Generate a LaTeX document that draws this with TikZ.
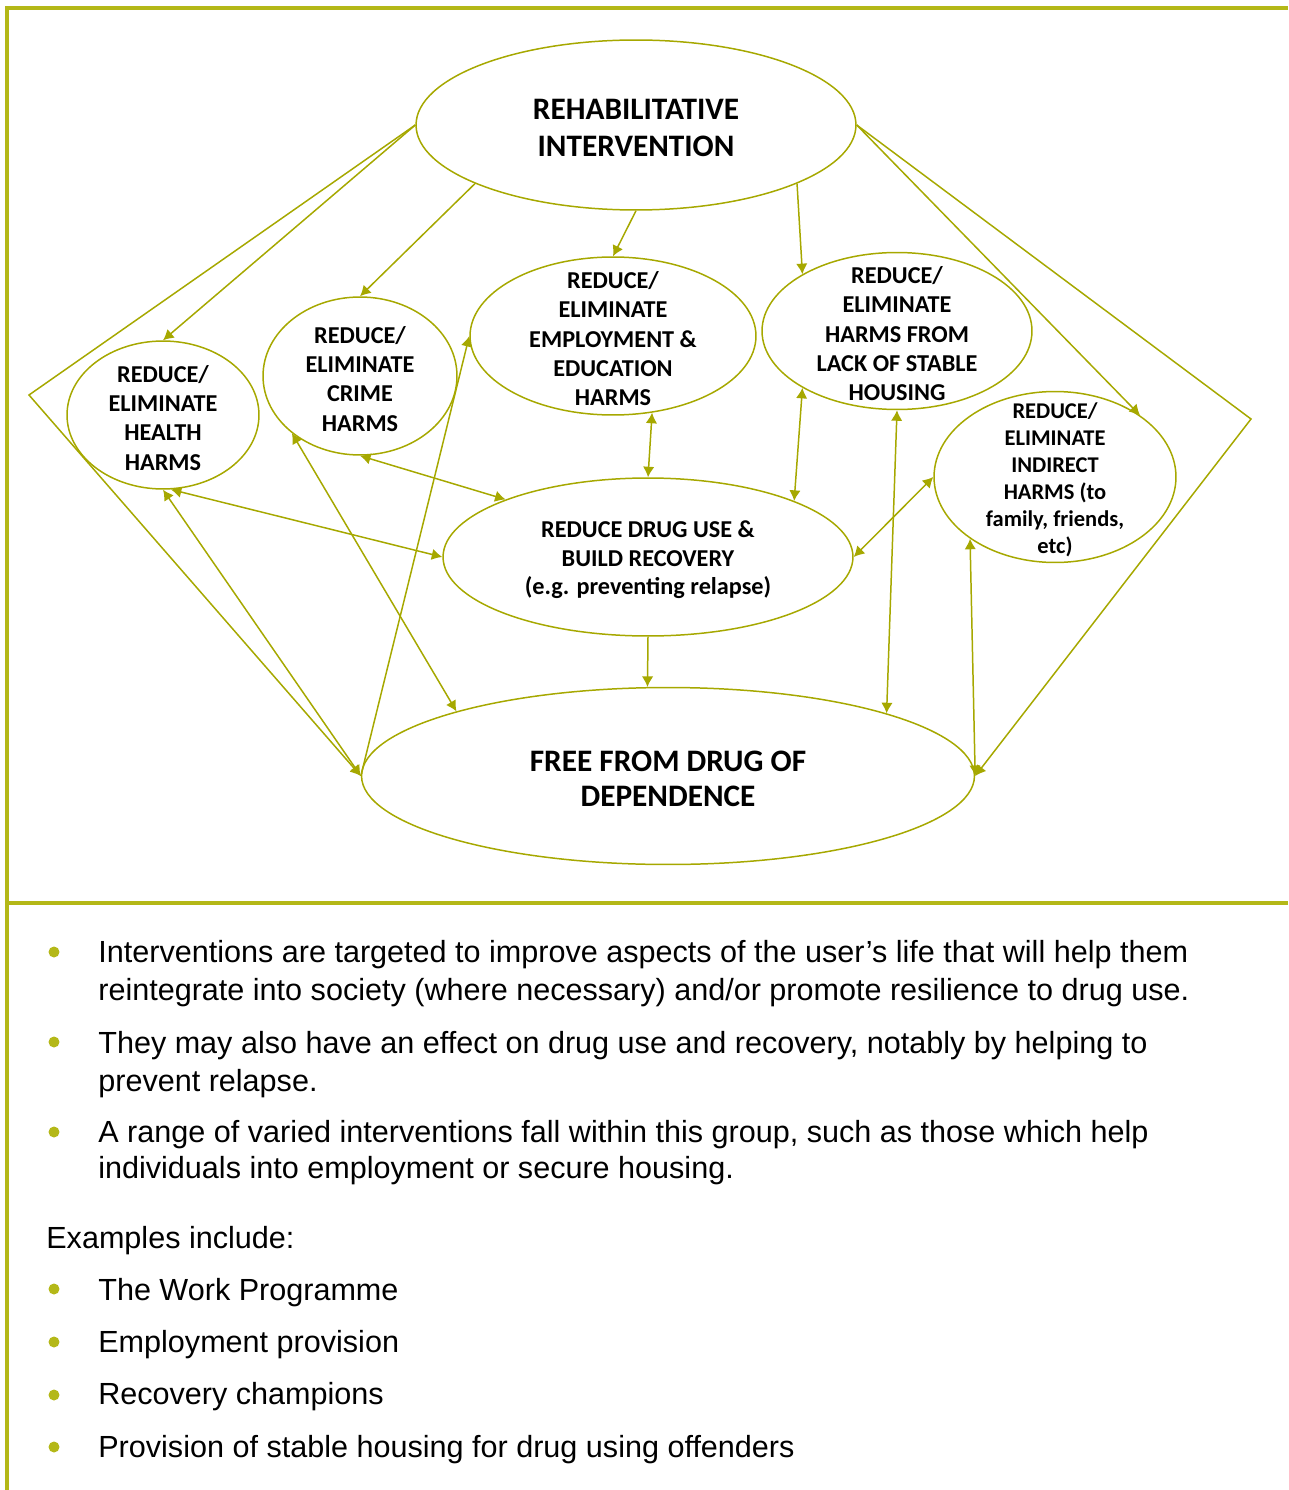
\documentclass[tikz,border=0pt]{standalone}
\usepackage{fontspec}
\setmainfont{Liberation Sans}
\newfontfamily\boxfont{Carlito}
\usetikzlibrary{shapes.geometric,calc,arrows.meta}
\definecolor{olivebar}{RGB}{180,184,24}
\definecolor{oliveline}{RGB}{166,168,0}
\tikzset{
  blob/.style={ellipse,draw=oliveline,line width=0.85pt,inner sep=0pt},
  bigtext/.style={align=center,yshift=-1.6pt,font=\boxfont\bfseries\fontsize{17.8}{21}\selectfont},
  smalltext/.style={align=center,yshift=-1.6pt,font=\boxfont\bfseries\fontsize{13.8}{16.7}\selectfont},
  drugtext/.style={align=center,yshift=-1.6pt,font=\boxfont\bfseries\fontsize{13.8}{16.2}\selectfont},
  tinytext/.style={align=center,yshift=-1.6pt,font=\boxfont\bfseries\fontsize{12.8}{15.3}\selectfont},
  tip/.tip={Latex[length=6pt,width=6.5pt]},
  conn/.style={draw=oliveline,line width=0.85pt,-tip},
  dconn/.style={conn,tip-tip},
  dot/.style={circle,fill=olivebar,inner sep=0pt,minimum size=0.22cm},
  item/.style={anchor=base west,inner sep=0pt,font=\fontsize{17.4}{20}\selectfont}
}

\begin{document}
\begin{tikzpicture}[x=0.02cm,y=-0.02cm]
  \useasboundingbox (0,0) rectangle (1288,1490);

  % frame
  \draw[olivebar,line width=1.8pt] (7,1490) -- (7,8) -- (1288,8);
  \draw[olivebar,line width=1.8pt] (7,903) -- (1288,903);

  % ellipses
  \node[blob,minimum width=8.8cm,minimum height=3.4cm] (rehab) at (636,125) {};
  \node[bigtext] (rehabtext) at (rehab) {REHABILITATIVE\\INTERVENTION};

  \node[blob,minimum width=3.84cm,minimum height=2.96cm] (health) at (163,415) {};
  \node[smalltext] (healthtext) at (health) {REDUCE/\\ELIMINATE\\HEALTH\\HARMS};

  \node[blob,minimum width=3.88cm,minimum height=3.16cm] (crime) at (360,376) {};
  \node[smalltext] (crimetext) at (crime) {REDUCE/\\ELIMINATE\\CRIME\\HARMS};

  \node[blob,minimum width=5.72cm,minimum height=3.16cm] (employ) at (613,336) {};
  \node[smalltext] (employtext) at (employ) {REDUCE/\\ELIMINATE\\EMPLOYMENT \&\\EDUCATION\\HARMS};

  \node[blob,minimum width=5.4cm,minimum height=3.14cm] (housing) at (897,331) {};
  \node[smalltext] (housingtext) at (housing) {REDUCE/\\ELIMINATE\\HARMS FROM\\LACK OF STABLE\\HOUSING};

  \node[blob,minimum width=4.84cm,minimum height=3.42cm] (indirect) at (1055,477) {};
  \node[tinytext] (indirecttext) at (indirect) {REDUCE/\\ELIMINATE\\INDIRECT\\HARMS (to\\family, friends,\\etc)};

  \node[blob,minimum width=8.2cm,minimum height=3.16cm] (drug) at (648,557) {};
  \node[drugtext] (drugtext) at (drug) {REDUCE DRUG USE \&\\BUILD RECOVERY\\(e.g. preventing relapse)};

  \node[blob,minimum width=12.26cm,minimum height=3.54cm] (free) at (668,776) {};
  \node[bigtext,font=\boxfont\bfseries\fontsize{17.8}{20.4}\selectfont] (freetext) at (free) {FREE FROM DRUG OF\\DEPENDENCE};

  % outer corners
  \coordinate (lefttip) at (29,395);
  \coordinate (righttip) at (1251,419);

  % connectors
  \draw[conn] (rehab.west) -- (health.north);
  \draw[conn] (rehab.200.7) -- (crime.north);
  \draw[conn] (rehab.south) -- (employ.north);
  \draw[conn] (rehab.-20.7) -- (housing.149);
  \draw[conn] (rehab.east) -- (indirect.36.8);
  \draw[conn] (rehab.west) -- (lefttip) -- (free.west);
  \draw[conn] (rehab.east) -- (righttip) -- (free.east);
  \draw[dconn] (health.south) -- (free.west);
  \draw[dconn] (health.-84) -- (drug.west);
  \draw[dconn] (crime.south) -- (drug.158.7);
  \draw[dconn] (crime.220.4) -- (free.163.5);
  \draw[conn] (free.west) -- (employ.west);
  \draw[dconn] (employ.-63.7) -- (drug.north);
  \draw[dconn] (housing.211.4) -- (drug.21.3);
  \draw[dconn] (housing.south) -- (free.16.4);
  \draw[dconn] (indirect.west) -- (drug.east);
  \draw[dconn] (indirect.216.5) -- (free.east);
  \draw[conn] (drug.south) -- (free.103.4);

  % bullets
  \foreach \y [count=\i] in {952,1042,1132,1289,1342,1395,1447}
    \node[dot] (dot\i) at (54,\y) {};

  \foreach \y/\txt [count=\i] in {
      962.7/{Interventions are targeted to improve aspects of the user’s life that will help them},
      1000/{reintegrate into society (where necessary) and/or promote resilience to drug use.},
      1053/{They may also have an effect on drug use and recovery, notably by helping to},
      1091/{prevent relapse.},
      1142/{A range of varied interventions fall within this group, such as those which help},
      1178/{individuals into employment or secure housing.},
      1300/{The Work Programme},
      1352/{Employment provision},
      1404/{Recovery champions},
      1457/{Provision of stable housing for drug using offenders}}
    \node[item] (line\i) at (98,\y) {\txt};

  \node[item] (examples) at (46,1248) {Examples include:};
\end{tikzpicture}
\end{document}
